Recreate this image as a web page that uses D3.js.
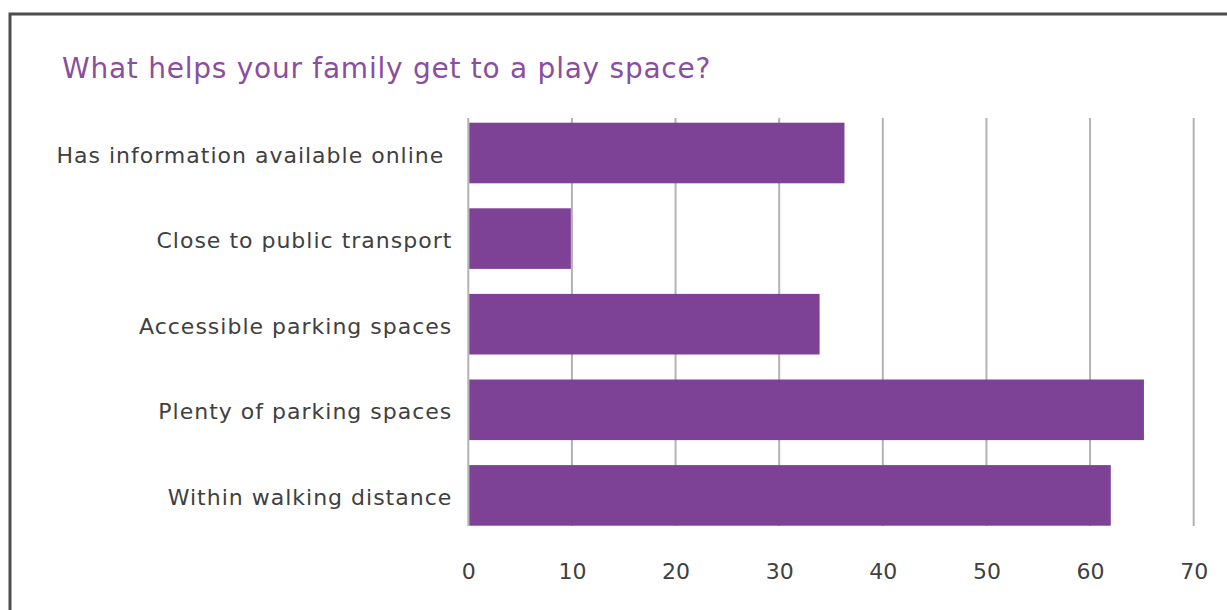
<!DOCTYPE html>
<html>
<head>
<meta charset="utf-8">
<script src="https://cdn.jsdelivr.net/npm/d3@7"></script>
<style>
  html, body { margin: 0; padding: 0; background: #ffffff; }
  svg { display: block; }
  text { font-family: "DejaVu Sans", Verdana, sans-serif; }
</style>
</head>
<body>
<svg id="chart" width="1227" height="610"></svg>
<script>
// Survey answers, top to bottom as drawn
const categories = [
  "Has information available online ",
  "Close to public transport",
  "Accessible parking spaces",
  "Plenty of parking spaces",
  "Within walking distance"
];
const values = [36.3, 9.9, 33.9, 65.2, 62.0];
const xTicks = [0, 10, 20, 30, 40, 50, 60, 70];
const title = "What helps your family get to a play space?";

const svg = d3.select("#chart");

// outer frame
svg.append("path")
  .attr("d", "M10,610 V14 H1227")
  .attr("fill", "none")
  .attr("stroke", "#4d4d4d")
  .attr("stroke-width", 3);

svg.append("text")
  .attr("x", 62)
  .attr("y", 78)
  .attr("fill", "#8a4ea0")
  .attr("font-size", 28)
  .attr("letter-spacing", 0.75)
  .text(title);

const x = d3.scaleLinear().domain([0, 70]).range([468.3, 1193.7]);
const y = d3.scaleBand()
  .domain(categories)
  .range([110.2, 538.2])
  .paddingInner(0.292)
  .paddingOuter(0.146);

// vertical gridlines
svg.append("g")
  .selectAll("line")
  .data(xTicks)
  .join("line")
  .attr("x1", d => x(d))
  .attr("x2", d => x(d))
  .attr("y1", 118)
  .attr("y2", 526)
  .attr("stroke", "#b3b3b3")
  .attr("stroke-width", 2);

// bars
svg.append("g")
  .selectAll("rect")
  .data(values)
  .join("rect")
  .attr("x", x(0) + 1)
  .attr("y", (d, i) => y(categories[i]))
  .attr("width", d => x(d) - x(0) - 1)
  .attr("height", y.bandwidth())
  .attr("fill", "#7d4296");

// category axis
const yAxis = svg.append("g")
  .attr("transform", `translate(${x(0) - 16},0)`)
  .call(d3.axisLeft(y).tickSize(0).tickPadding(0));
yAxis.select(".domain").remove();
yAxis.selectAll("text")
  .attr("font-size", 22)
  .attr("letter-spacing", 1)
  .attr("fill", "#404040")
  .attr("font-family", "DejaVu Sans, Verdana, sans-serif")
  .attr("dy", "0.44em")
  .style("white-space", "pre");

// value axis
const xAxis = svg.append("g")
  .attr("transform", "translate(0,579)")
  .call(d3.axisBottom(x).tickValues(xTicks).tickSize(0).tickPadding(0));
xAxis.select(".domain").remove();
xAxis.selectAll("text")
  .attr("font-size", 22)
  .attr("fill", "#404040")
  .attr("font-family", "DejaVu Sans, Verdana, sans-serif")
  .attr("dy", "0");
</script>
</body>
</html>
